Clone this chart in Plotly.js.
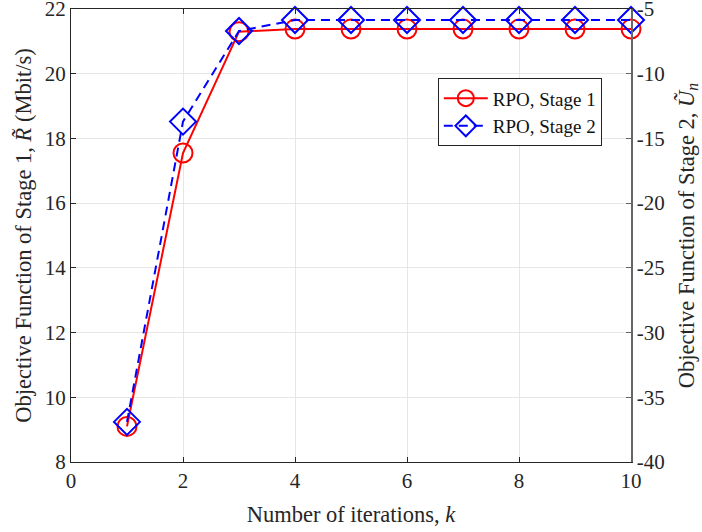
<!DOCTYPE html>
<html>
<head>
<meta charset="utf-8">
<script src="https://cdn.plot.ly/plotly-3.0.1.min.js"></script>
<style>html,body{margin:0;padding:0;background:#fff;}#chart{width:702px;height:532px;}</style>
</head>
<body>
<div id="chart"></div>
<script>
const iterations = [1, 2, 3, 4, 5, 6, 7, 8, 9, 10];
const stage1 = [9.1, 17.55, 21.3, 21.38, 21.38, 21.38, 21.38, 21.38, 21.38, 21.38];
const stage2 = [-36.9, -13.7, -6.7, -5.85, -5.85, -5.85, -5.85, -5.85, -5.85, -5.85];
const xTicks = [0, 2, 4, 6, 8, 10];
const yTicks = [8, 10, 12, 14, 16, 18, 20, 22];
const y2Ticks = [-40, -35, -30, -25, -20, -15, -10, -5];

const font = '"Liberation Serif", serif';
const tickFont = {family: font, size: 21, color: '#262626'};
const titleFont = {family: font, size: 22.5, color: '#262626'};

const traces = [
  {
    x: iterations, y: stage1, name: 'RPO, Stage 1', type: 'scatter', mode: 'lines+markers',
    line: {color: '#ff0000', width: 2},
    marker: {symbol: 'circle-open', size: 19, color: '#ff0000', line: {width: 2, color: '#ff0000'}},
    yaxis: 'y', cliponaxis: false
  },
  {
    x: iterations, y: stage2, name: 'RPO, Stage 2', type: 'scatter', mode: 'lines+markers',
    line: {color: '#0000ff', width: 2, dash: '9px,6px'},
    marker: {symbol: 'diamond-open', size: 20, color: '#0000ff', line: {width: 2, color: '#0000ff'}},
    yaxis: 'y2', cliponaxis: false
  }
];

const layout = {
  width: 702, height: 532,
  margin: {l: 71, r: 71, t: 9, b: 70},
  paper_bgcolor: '#fff', plot_bgcolor: '#fff',
  font: {family: font, size: 21, color: '#222'},
  showlegend: true,
  legend: {
    x: 0.655, y: 0.847, xanchor: 'left', yanchor: 'top',
    bordercolor: '#222', borderwidth: 1, bgcolor: '#fff',
    font: {family: font, size: 19, color: '#111'},
    tracegroupgap: 0, itemwidth: 44
  },
  xaxis: {
    range: [0, 10], tickvals: xTicks, ticktext: xTicks.map(String),
    showgrid: true, gridcolor: '#e6e6e6', gridwidth: 1,
    zeroline: false, showline: true, linecolor: '#262626', linewidth: 1,
    mirror: 'ticks', ticks: 'inside', ticklen: 5, tickcolor: '#262626',
    ticklabeloverflow: 'allow', automargin: false,
    tickfont: tickFont,
    title: {text: 'Number of iterations, <i>k</i>', font: titleFont, standoff: 14}
  },
  yaxis: {
    range: [8, 22], tickvals: yTicks, ticktext: yTicks.map(String),
    showgrid: true, gridcolor: '#e6e6e6', gridwidth: 1,
    zeroline: false, showline: true, linecolor: '#262626', linewidth: 1,
    ticks: 'inside', ticklen: 5, tickcolor: '#262626',
    ticklabeloverflow: 'allow', automargin: false,
    tickfont: tickFont,
    title: {text: 'Objective Function of Stage 1, <i>R\u0303</i> (Mbit/s)', font: titleFont, standoff: 6}
  },
  yaxis2: {
    range: [-40, -5], tickvals: y2Ticks, ticktext: y2Ticks.map(String),
    overlaying: 'y', side: 'right', showgrid: false,
    zeroline: false, showline: true, linecolor: '#666666', linewidth: 1.5,
    ticks: 'inside', ticklen: 5, tickcolor: '#666666',
    ticklabeloverflow: 'allow', automargin: false,
    tickfont: tickFont,
    title: {text: 'Objective Function of Stage 2, <i>U\u0303<sub>n</sub></i>', font: titleFont, standoff: 14}
  }
};

Plotly.newPlot('chart', traces, layout, {displayModeBar: false, staticPlot: true});
</script>
</body>
</html>
